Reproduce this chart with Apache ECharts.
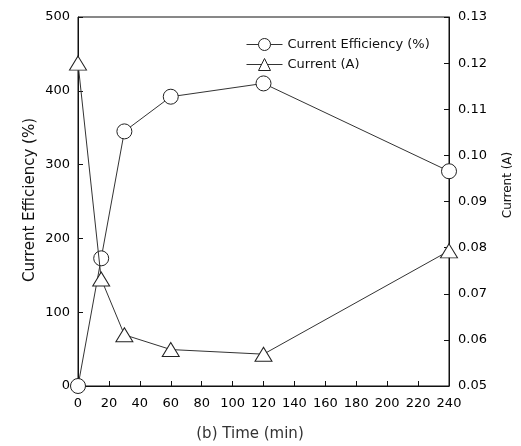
<!DOCTYPE html>
<html>
<head>
<meta charset="utf-8">
<script src="https://cdn.jsdelivr.net/npm/echarts@6/dist/echarts.min.js"></script>
<style>
  html, body { margin: 0; padding: 0; background: #fff; }
  #chart { width: 521px; height: 446px; }
</style>
</head>
<body>
<div id="chart"></div>
<script>
// Sampling times (min)
const times = [0, 15, 30, 60, 120, 240];
// Current efficiency (%) – left axis
const efficiency = [0, 173, 345, 392, 410, 291];
// Current (A) – right axis
const current = [0.120, 0.0732, 0.0611, 0.0579, 0.0569, 0.0793];

const FONT = '"DejaVu Sans", Verdana, sans-serif';
const INK = '#111';

const chart = echarts.init(document.getElementById('chart'), null, { renderer: 'canvas' });

const axisCommon = {
  axisLine: { show: true, lineStyle: { color: INK, width: 1 } },
  axisTick: { show: true, inside: true, length: 5, lineStyle: { color: INK } },
  splitLine: { show: false },
  axisLabel: { color: '#000', fontFamily: FONT, fontSize: 13 }
};

chart.setOption({
  animation: false,
  backgroundColor: '#fff',
  grid: {
    left: 78, right: 72, top: 17, bottom: 60,
    show: true, borderColor: INK, borderWidth: 1, backgroundColor: 'transparent'
  },
  legend: {
    orient: 'vertical',
    left: 241, top: 33,
    itemWidth: 36, itemHeight: 15, itemGap: 7,
    itemStyle: { borderWidth: 1 },
    lineStyle: { width: 1 },
    textStyle: { color: INK, fontFamily: FONT, fontSize: 13 },
    data: [
      { name: 'Current Efficiency (%)' },
      { name: 'Current (A)' }
    ]
  },
  xAxis: Object.assign({}, axisCommon, {
    type: 'value', min: 0, max: 240, interval: 20,
    axisLabel: Object.assign({}, axisCommon.axisLabel, { margin: 11 })
  }),
  yAxis: [
    Object.assign({}, axisCommon, {
      type: 'value', min: 0, max: 500, interval: 100, position: 'left',
      axisLabel: Object.assign({}, axisCommon.axisLabel, { margin: 8 })
    }),
    Object.assign({}, axisCommon, {
      type: 'value', min: 0.05, max: 0.13, interval: 0.01, position: 'right',
      axisLabel: Object.assign({}, axisCommon.axisLabel, {
        margin: 9,
        formatter: v => v.toFixed(2)
      })
    })
  ],
  // Axis titles
  graphic: [
    {
      type: 'text', x: 30, y: 200, rotation: Math.PI / 2,
      style: {
        text: 'Current Efficiency (%)', fill: INK, font: '15px ' + FONT,
        textAlign: 'center', textVerticalAlign: 'middle'
      }
    },
    {
      type: 'text', x: 508, y: 185, rotation: Math.PI / 2,
      style: {
        text: 'Current (A)', fill: INK, font: '12px ' + FONT,
        textAlign: 'center', textVerticalAlign: 'middle'
      }
    },
    {
      type: 'text', x: 250, y: 434,
      style: {
        text: '(b) Time (min)', fill: '#333', font: '15px ' + FONT,
        textAlign: 'center', textVerticalAlign: 'middle'
      }
    }
  ],
  series: [
    {
      name: 'Current Efficiency (%)',
      type: 'line',
      yAxisIndex: 0,
      data: times.map((t, i) => [t, efficiency[i]]),
      symbol: 'circle', symbolSize: 15,
      lineStyle: { color: '#333', width: 1 },
      itemStyle: { color: '#fff', borderColor: '#222', borderWidth: 1 },
      z: 2
    },
    {
      name: 'Current (A)',
      type: 'line',
      yAxisIndex: 1,
      data: times.map((t, i) => [t, current[i]]),
      symbol: 'triangle', symbolSize: [17, 14],
      lineStyle: { color: '#333', width: 1 },
      itemStyle: { color: '#fff', borderColor: '#222', borderWidth: 1 },
      z: 3
    }
  ]
});
</script>
</body>
</html>
